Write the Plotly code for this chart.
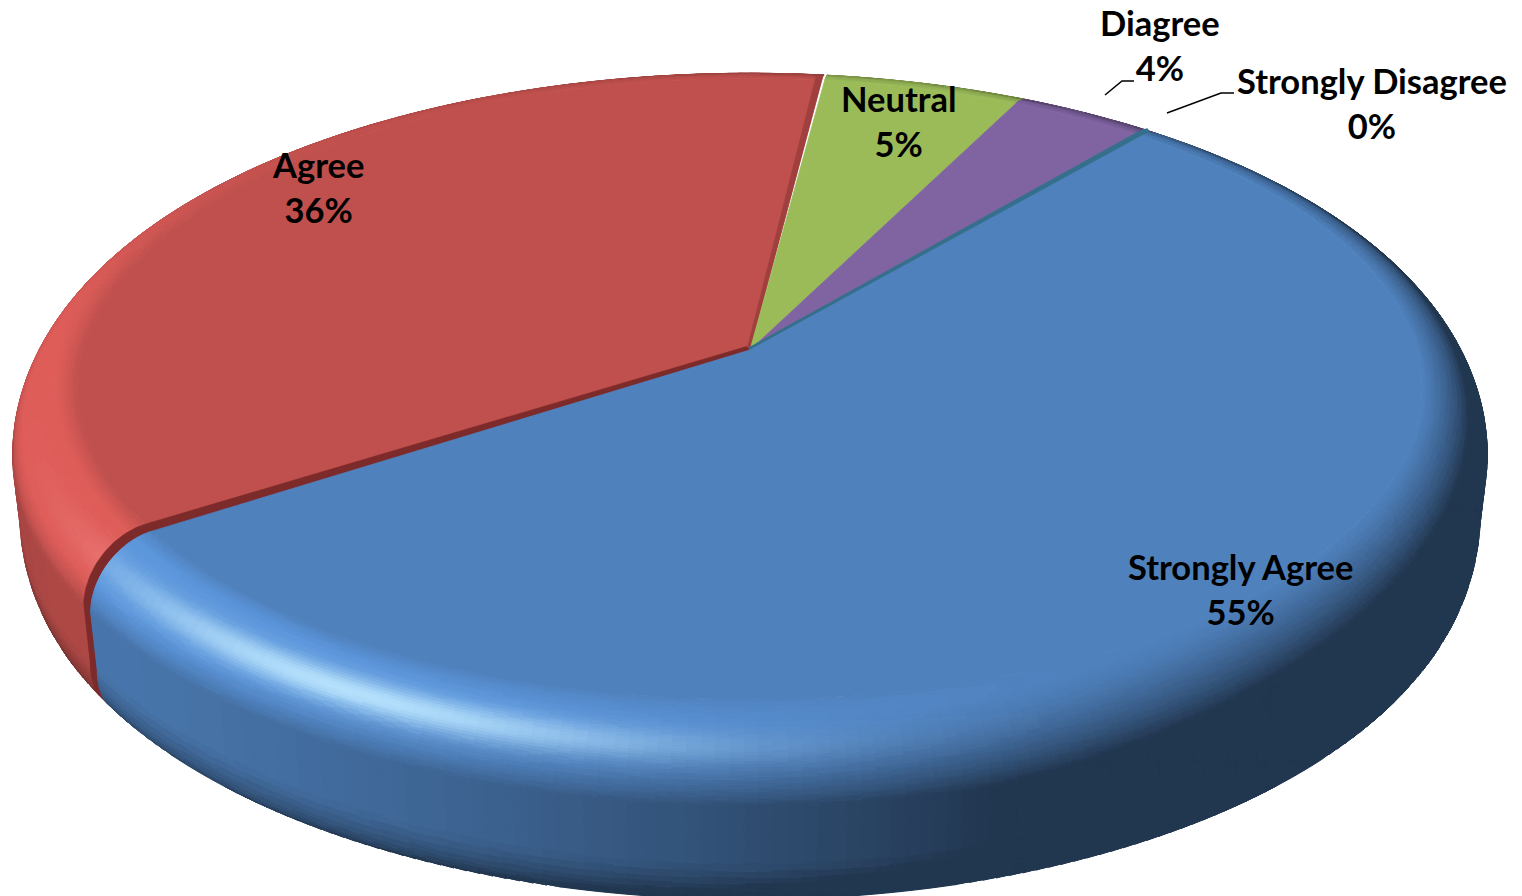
import math
import plotly.graph_objects as go

# ---- data ----
CATEGORIES = ["Strongly Agree", "Agree", "Neutral", "Diagree", "Strongly Disagree"]
VALUES = [54.6, 36.3, 5.3, 3.8, 0.0]
COLORS = [(79, 129, 189), (192, 80, 77), (155, 187, 89), (128, 100, 162), (75, 172, 198)]
GLOSS = [(190, 232, 255), (255, 170, 170), (220, 240, 170), (200, 180, 230), (200, 240, 250)]
DRAW_ORDER = [1, 2, 3, 0]
LABEL_X = [1240, 318, 899, 1160, 1372]
LABEL_Y = [589, 187, 121, 45, 103]
LEADER_X = [[], [], [], [1105, 1122, 1134], [1167, 1221, 1234]]
LEADER_Y = [[], [], [], [95, 81, 81], [113, 93, 93]]

# ---- view of the tilted disc ----
CX, CY = 750.0, 350.0
K, A, B = 0.1254, 667.0, 306.0
START_DEG = 50.0
BEVEL_R, BEVEL_D, SIDE_D, BOTTOM_D = 0.095, 58.0, 112.0, 153.0
SIDE_SHRINK, BOTTOM_SHRINK = 0.010, 0.032
L = (-0.55, -0.35, 0.75)


def project(t, r, d):
    u, v = r * math.cos(t), r * math.sin(t)
    w = 1 + K * v
    return CX + A * u / w, CY - B * v / w + d / w


def build_profile():
    prof = []
    n = 40
    for i in range(n + 1):
        p = math.radians(90 * i / n)
        prof.append((p, 1 + BEVEL_R * math.sin(p), BEVEL_D * (1 - math.cos(p))))
    for i in range(1, 5):
        prof.append((math.pi / 2, 1 + BEVEL_R - SIDE_SHRINK * i / 4,
                     BEVEL_D + (SIDE_D - BEVEL_D) * i / 4))
    for i in range(1, 11):
        a = math.radians(90 * i / 10)
        prof.append((math.radians(90 + 35 * i / 10),
                     1 + BEVEL_R - SIDE_SHRINK - BOTTOM_SHRINK * (1 - math.cos(a)),
                     SIDE_D + (BOTTOM_D - SIDE_D) * math.sin(a)))
    return prof


PROFILE = build_profile()


def shade(t, phi):
    n = (math.sin(phi) * math.cos(t), math.sin(phi) * math.sin(t), math.cos(phi))
    m = 1 + (n[0] * L[0] + n[1] * L[1] + n[2] * L[2] - L[2])
    m = min(1.16, max(0.42, m))
    td = (math.degrees(t) + 180) % 360 - 180
    dt = (td + 120 + 180) % 360 - 180
    s = 0.9 * math.exp(-(dt / 24.0) ** 2) * math.exp(-((math.degrees(phi) - 46) / 13.0) ** 2)
    return m, s


def colour(base, gloss, m, s):
    c = [min(255, b * m) for b in base]
    c = [x + (g - x) * s for x, g in zip(c, gloss)]
    return "rgb(%d,%d,%d)" % tuple(round(x) for x in c)


def slice_traces(base, gloss, t0, t1):
    """Rim patches of one slice, merged per colour, then its flat top."""
    buckets = {}
    steps = max(2, int(math.degrees(t1 - t0) / 1.0))
    for i in range(steps):
        a = t0 + (t1 - t0) * i / steps
        b = t0 + (t1 - t0) * (i + 1) / steps
        for j in range(len(PROFILE) - 1):
            p0, r0, d0 = PROFILE[j]
            p1, r1, d1 = PROFILE[j + 1]
            q = [project(a, r0, d0), project(b, r0, d0), project(b, r1, d1), project(a, r1, d1)]
            area = sum(q[k][0] * q[(k + 1) % 4][1] - q[(k + 1) % 4][0] * q[k][1] for k in range(4))
            if area <= 0:
                continue
            m, s = shade((a + b) / 2, (p0 + p1) / 2)
            key = (round(m / 0.01), round(s / 0.02))
            xs, ys = buckets.setdefault(key, ([], []))
            for x, y in q + [q[0]]:
                xs.append(x)
                ys.append(y)
            xs.append(None)
            ys.append(None)
    out = []
    for (km, ks), (xs, ys) in buckets.items():
        col = colour(base, gloss, km * 0.01, ks * 0.02)
        out.append(go.Scatter(x=xs, y=ys, mode="lines", fill="toself", fillcolor=col,
                              line=dict(color=col, width=1), hoverinfo="skip", showlegend=False))
    pts = [project(t0 + (t1 - t0) * i / steps, 1.0, 0) for i in range(steps + 1)]
    xs = [CX] + [p[0] for p in pts] + [CX]
    ys = [CY] + [p[1] for p in pts] + [CY]
    col = "rgb(%d,%d,%d)" % base
    out.append(go.Scatter(x=xs, y=ys, mode="lines", fill="toself", fillcolor=col,
                          line=dict(color=col, width=0.8), hoverinfo="skip", showlegend=False))
    return out


def cut_strip(t, ox, oy, col, n_profile=None):
    """Visible cut face next to a slice edge: its radial profile and a shifted copy."""
    curve = [(CX, CY, 0.5)]
    for f in (0.25, 0.5, 0.75):
        x, y = project(t, f, 0)
        curve.append((x, y, 0.5 + 0.5 * f))
    profile = PROFILE if n_profile is None else PROFILE[:n_profile]
    total = len(profile)
    for j, (p, r, d) in enumerate(profile):
        x, y = project(t, r, d)
        taper = 1.0 if n_profile is not None or j < total - 4 else (total - j) / 4.5
        curve.append((x, y, taper))
    xs = [c[0] for c in curve] + [c[0] + ox * c[2] for c in reversed(curve)]
    ys = [c[1] for c in curve] + [c[1] + oy * c[2] for c in reversed(curve)]
    return go.Scatter(x=xs + [xs[0]], y=ys + [ys[0]], mode="lines", fill="toself", fillcolor=col,
                      line=dict(color=col, width=0.5), hoverinfo="skip", showlegend=False)


# slice angles, clockwise from the start angle, taken from the values
total = sum(VALUES)
angles = []
cur = math.radians(START_DEG)
for v in VALUES:
    nxt = cur - 2 * math.pi * v / total
    angles.append((nxt, cur))
    cur = nxt

fig = go.Figure()
GAP = math.radians(0.3)
for idx in DRAW_ORDER:
    lo, hi = angles[idx]
    if idx == 1:
        lo += GAP  # small opening towards the Neutral slice
    fig.add_traces(slice_traces(COLORS[idx], GLOSS[idx], lo, hi))
    if idx == 1:
        fig.add_trace(cut_strip(lo, -6.5, -0.5, "rgb(160,64,62)", n_profile=6))
        fig.add_trace(cut_strip(hi, -7, -7, "rgb(124,42,42)"))
    if idx == 3:
        fig.add_trace(cut_strip(lo, -3, -4.5, "rgb(52,112,140)", n_profile=8))

# leader lines for the outside labels
for lx, ly in zip(LEADER_X, LEADER_Y):
    if lx:
        fig.add_trace(go.Scatter(x=lx, y=ly, mode="lines", line=dict(color="black", width=1.5),
                                 hoverinfo="skip", showlegend=False))

for name, v, x, y in zip(CATEGORIES, VALUES, LABEL_X, LABEL_Y):
    fig.add_annotation(x=x, y=y, text="<b>%s<br>%d%%</b>" % (name, round(v)), showarrow=False,
                       font=dict(family="Lato", size=34.5, color="black"), align="center",
                       xanchor="center", yanchor="middle")

fig.update_layout(
    width=1522, height=896, margin=dict(l=0, r=0, t=0, b=0),
    paper_bgcolor="white", plot_bgcolor="white", showlegend=False,
    xaxis=dict(range=[0, 1522], visible=False, fixedrange=True),
    yaxis=dict(range=[896, 0], visible=False, fixedrange=True),
)
fig.write_html("out.html", config={"displayModeBar": False},
               post_script="document.body.style.margin='0';")
